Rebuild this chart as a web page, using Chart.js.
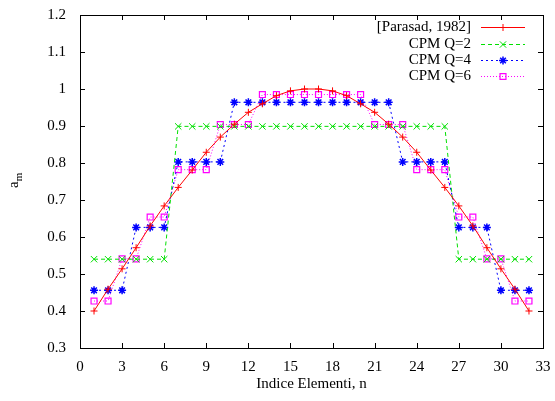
<!DOCTYPE html>
<html>
<head>
<meta charset="utf-8">
<script src="https://cdn.jsdelivr.net/npm/chart.js@4/dist/chart.umd.min.js"></script>
<style>
  body { margin: 0; background: #fff; }
  #wrap { width: 555px; height: 401px; }
</style>
</head>
<body>
<div id="wrap"><canvas id="mycanvas"></canvas></div>
<script>
// element index
var elements = [1,2,3,4,5,6,7,8,9,10,11,12,13,14,15,16,17,18,19,20,21,22,23,24,25,26,27,28,29,30,31,32];

var parasad = [0.400,0.459,0.514,0.571,0.630,0.684,0.734,0.781,0.829,0.870,0.905,0.937,0.960,0.982,0.995,1.000,
               1.000,0.995,0.982,0.960,0.937,0.905,0.870,0.829,0.781,0.734,0.684,0.630,0.571,0.514,0.459,0.400];
var cpmQ2 = [0.540,0.540,0.540,0.540,0.540,0.540,0.899,0.899,0.899,0.899,0.899,0.899,0.899,0.899,0.899,0.899,
             0.899,0.899,0.899,0.899,0.899,0.899,0.899,0.899,0.899,0.899,0.540,0.540,0.540,0.540,0.540,0.540];
var cpmQ4 = [0.456,0.456,0.456,0.626,0.626,0.626,0.803,0.803,0.803,0.803,0.964,0.964,0.964,0.964,0.964,0.964,
             0.964,0.964,0.964,0.964,0.964,0.964,0.803,0.803,0.803,0.803,0.626,0.626,0.626,0.456,0.456,0.456];
var cpmQ6 = [0.427,0.427,0.541,0.541,0.654,0.654,0.782,0.782,0.782,0.904,0.904,0.904,0.985,0.985,0.985,0.985,
             0.985,0.985,0.985,0.985,0.904,0.904,0.904,0.782,0.782,0.782,0.654,0.654,0.541,0.541,0.427,0.427];

var seriesNames = ["[Parasad, 1982]", "CPM Q=2", "CPM Q=4", "CPM Q=6"];
var xTicks = [0,3,6,9,12,15,18,21,24,27,30,33];
var yTicks = [0.3,0.4,0.5,0.6,0.7,0.8,0.9,1.0,1.1,1.2];

var serif = "'Liberation Serif', 'DejaVu Serif', serif";

function pts(values) {
    var out = [];
    for (var i in values) {
        out.push({x: elements[i], y: values[i]});
    }
    return out;
}

// gnuplot-like frame: mirrored inward ticks, legend, subscripted y label
var frame = {
    id: 'frame',
    afterDraw: function(chart) {
        var ctx = chart.ctx;
        var a = chart.chartArea;
        var xs = chart.scales.x, ys = chart.scales.y;
        ctx.save();
        ctx.strokeStyle = '#000';
        ctx.lineWidth = 1;
        ctx.strokeRect(Math.round(a.left) + 0.5, Math.round(a.top) + 0.5,
                       Math.round(a.right - a.left), Math.round(a.bottom - a.top));
        ctx.beginPath();
        var t = 5;
        for (var i in xTicks) {
            var px = Math.round(xs.getPixelForValue(xTicks[i])) + 0.5;
            ctx.moveTo(px, a.bottom); ctx.lineTo(px, a.bottom - t);
            ctx.moveTo(px, a.top); ctx.lineTo(px, a.top + t);
        }
        for (var j in yTicks) {
            var py = Math.round(ys.getPixelForValue(yTicks[j])) + 0.5;
            ctx.moveTo(a.left, py); ctx.lineTo(a.left + t, py);
            ctx.moveTo(a.right, py); ctx.lineTo(a.right - t, py);
        }
        ctx.stroke();

        // legend
        ctx.font = '15px ' + serif;
        ctx.textAlign = 'right';
        ctx.textBaseline = 'middle';
        var rowY = [27, 44, 60, 76];
        chart.data.datasets.forEach(function(ds, k) {
            var y = rowY[k] + 0.5;
            ctx.fillStyle = '#000';
            ctx.fillText(ds.label, 471, rowY[k]);
            ctx.strokeStyle = ds.borderColor;
            ctx.lineWidth = 1;
            ctx.setLineDash(ds.borderDash || []);
            ctx.beginPath();
            ctx.moveTo(481, y); ctx.lineTo(525, y);
            ctx.stroke();
            ctx.setLineDash([]);
            ctx.fillStyle = ds.backgroundColor;
            ctx.lineWidth = ds.pointBorderWidth;
            Chart.helpers.drawPoint(ctx, {
                pointStyle: ds.pointStyle,
                radius: ds.pointRadius,
                borderWidth: ds.pointBorderWidth
            }, 503, y);
        });

        // y axis label a_m
        ctx.translate(18, 188);
        ctx.rotate(-Math.PI / 2);
        ctx.fillStyle = '#000';
        ctx.textAlign = 'left';
        ctx.textBaseline = 'alphabetic';
        ctx.font = '15px ' + serif;
        ctx.fillText('a', 0, 0);
        var w = ctx.measureText('a').width;
        ctx.font = '11px ' + serif;
        ctx.fillText('m', w, 4);
        ctx.restore();
    }
};

var chartdata = {
    datasets: [
        {
            label: seriesNames[0],
            data: pts(parasad),
            borderColor: "#ff0000",
            backgroundColor: "#ff0000",
            borderWidth: 1,
            pointStyle: 'cross',
            pointRadius: 3.5,
            pointBorderWidth: 1,
            tension: 0
        },
        {
            label: seriesNames[1],
            data: pts(cpmQ2),
            borderColor: "#00e000",
            backgroundColor: "#00e000",
            borderWidth: 1,
            borderDash: [4, 3],
            pointStyle: 'crossRot',
            pointRadius: 4.5,
            pointBorderWidth: 1,
            tension: 0
        },
        {
            label: seriesNames[2],
            data: pts(cpmQ4),
            borderColor: "#0000ff",
            backgroundColor: "#0000ff",
            borderWidth: 1,
            borderDash: [2, 3],
            pointStyle: 'star',
            pointRadius: 4,
            pointBorderWidth: 1.5,
            tension: 0
        },
        {
            label: seriesNames[3],
            data: pts(cpmQ6),
            borderColor: "#ff00ff",
            backgroundColor: "rgba(0,0,0,0)",
            borderWidth: 1,
            borderDash: [1, 2],
            pointStyle: 'rect',
            pointRadius: 4.2,
            pointBorderWidth: 1.2,
            tension: 0
        }
    ]
};

var ctx = document.getElementById("mycanvas");

var LineGraph = new Chart(ctx, {
    type: 'line',
    data: chartdata,
    plugins: [frame],
    options: {
        responsive: true,
        maintainAspectRatio: false,
        animation: false,
        layout: { padding: { left: 0, right: 12, top: 15, bottom: 0 } },
        plugins: {
            legend: { display: false },
            tooltip: { enabled: false }
        },
        scales: {
            x: {
                type: 'linear',
                min: 0,
                max: 33,
                afterFit: function(scale) {
                    scale.height = 53;
                    scale.paddingLeft = 0;
                    scale.paddingRight = 0;
                },
                afterBuildTicks: function(scale) {
                    scale.ticks = xTicks.map(function(v) { return {value: v}; });
                },
                grid: { display: false, drawTicks: false },
                border: { display: false },
                ticks: {
                    color: '#000',
                    padding: 10,
                    maxRotation: 0,
                    autoSkip: false,
                    font: { family: serif, size: 15 }
                },
                title: {
                    display: true,
                    text: 'Indice Elementi, n',
                    color: '#000',
                    padding: { top: 0, bottom: 8 },
                    font: { family: serif, size: 15 }
                }
            },
            y: {
                min: 0.3,
                max: 1.2,
                afterFit: function(scale) {
                    scale.width = 80;
                    scale.paddingTop = 0;
                    scale.paddingBottom = 0;
                },
                afterBuildTicks: function(scale) {
                    scale.ticks = yTicks.map(function(v) { return {value: v}; });
                },
                grid: { display: false, drawTicks: false },
                border: { display: false },
                ticks: {
                    color: '#000',
                    padding: 14,
                    autoSkip: false,
                    font: { family: serif, size: 15 },
                    callback: function(v) { return String(Number(v.toFixed(1))); }
                }
            }
        }
    }
});
</script>
</body>
</html>
